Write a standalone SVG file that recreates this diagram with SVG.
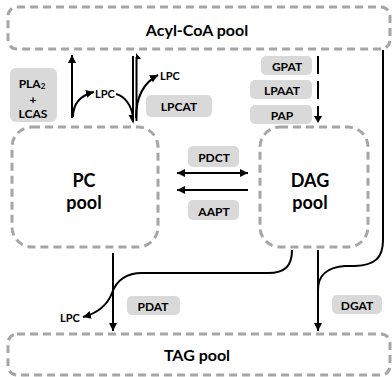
<svg xmlns="http://www.w3.org/2000/svg" width="392" height="377" viewBox="0 0 392 377">
<style>
.pool{fill:#fff;stroke:#a6a6a6;stroke-width:3;stroke-dasharray:8 5}
.enz{fill:#d9d9d9;stroke:none}
.t{font-family:Lato,"Open Sans","Liberation Sans",sans-serif;font-weight:bold;fill:#000;text-anchor:middle;dominant-baseline:central}
.big{font-size:16px}
.pl{font-size:18px}
.e{font-size:12px}
.s{font-size:11px}
.ln{fill:none;stroke:#000;stroke-width:2}
</style>
<defs>
<marker id="ah" markerUnits="userSpaceOnUse" markerWidth="9" markerHeight="8" refX="8" refY="4" orient="auto-start-reverse" viewBox="0 0 9 8">
<path d="M0,0 L8,4 L0,8 z" fill="#000"/>
</marker>
</defs>
<g id="acyl"><rect class="pool" x="8" y="7" width="382" height="42" rx="9"/><text class="t big" x="197" y="29">Acyl-CoA pool</text></g>
<g id="pc"><rect class="pool" x="12" y="127" width="146" height="120" rx="20"/><text class="t pl" x="84" y="180">PC</text><text class="t pl" x="84" y="202">pool</text></g>
<g id="dag"><rect class="pool" x="260" y="127" width="108" height="120" rx="20"/><text class="t pl" x="310" y="180">DAG</text><text class="t pl" x="310" y="202">pool</text></g>
<g id="tag"><rect class="pool" x="8" y="334" width="382" height="41" rx="9"/><text class="t big" x="197" y="354">TAG pool</text></g>
<g id="pla2"><rect class="enz" x="10" y="68" width="47" height="54" rx="6"/><text class="t e" x="32" y="83">PLA<tspan font-size="8" dy="3">2</tspan></text><text class="t e" x="33" y="99">+</text><text class="t e" x="33" y="113">LCAS</text></g>
<g id="lpcat"><rect class="enz" x="146" y="95" width="66" height="22" rx="5"/><text class="t e" x="179" y="106">LPCAT</text></g>
<g id="gpat"><rect class="enz" x="261" y="56" width="51" height="19" rx="5"/><text class="t e" x="287" y="66">GPAT</text></g>
<g id="lpaat"><rect class="enz" x="250" y="80" width="62" height="19" rx="5"/><text class="t e" x="282" y="90">LPAAT</text></g>
<g id="pap"><rect class="enz" x="250" y="105" width="62" height="19" rx="5"/><text class="t e" x="282" y="115">PAP</text></g>
<g id="pdct"><rect class="enz" x="188" y="146" width="51" height="21" rx="5"/><text class="t e" x="214" y="157">PDCT</text></g>
<g id="aapt"><rect class="enz" x="188" y="200" width="51" height="20" rx="5"/><text class="t e" x="214" y="211">AAPT</text></g>
<g id="pdat"><rect class="enz" x="127" y="296" width="53" height="19" rx="5"/><text class="t e" x="153" y="306">PDAT</text></g>
<g id="dgat"><rect class="enz" x="332" y="295" width="50" height="19" rx="5"/><text class="t e" x="357" y="305">DGAT</text></g>
<g id="labels">
<text class="t s" x="105" y="93">LPC</text>
<text class="t s" x="170" y="75">LPC</text>
<text class="t s" x="70" y="317">LPC</text>
</g>
<g id="connectors">
<path class="ln" d="M72 118 L72 55" marker-end="url(#ah)"/>
<path class="ln" d="M73 117 C73 102 82 95 94 92" marker-end="url(#ah)"/>
<path class="ln" d="M116 94 C125 96 132 106 133 118"/>
<path class="ln" d="M136 118 C136 96 145 82 158 75" marker-end="url(#ah)"/>
<path class="ln" d="M133 56 L133 122" stroke-width="1.5"/>
<path d="M133.5 124 L128.5 115 L133.5 115 z" fill="#000"/>
<path class="ln" d="M136.5 57 L136.5 121" stroke-width="1.5"/>
<path d="M136 53 L141 59 L136 59 z" fill="#000"/>
<path class="ln" d="M318 56 L318 116" stroke-dasharray="18 7"/>
<path d="M314 116 L318 123 L322 116 z" fill="#000"/>
<path class="ln" d="M177 173 L248 173" marker-start="url(#ah)" marker-end="url(#ah)"/>
<path class="ln" d="M248 190 L177 190" marker-end="url(#ah)"/>
<path class="ln" d="M113 253 L113 331" marker-end="url(#ah)"/>
<path class="ln" d="M292 250 C292 266 285 273 268 273 L142 273 C124 273 116 282 112 293 C107 306 98 313 83 317" marker-end="url(#ah)"/>
<path class="ln" d="M318 250 L318 331" marker-end="url(#ah)"/>
<path class="ln" d="M383 50 L383 240 C383 258 375 265 355 266 L345 266 C328 267 318 275 318 290"/>
</g>
</svg>
